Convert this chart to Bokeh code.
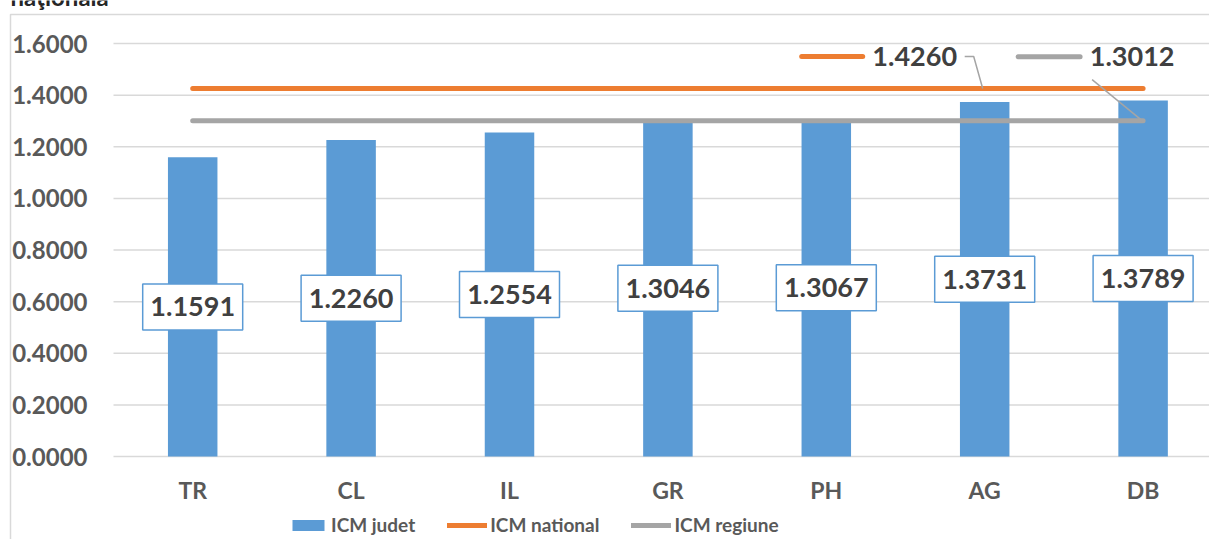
from bokeh.plotting import figure
from bokeh.models import (Range1d, FixedTicker, NumeralTickFormatter, Legend, LegendItem,
                          Label, ColumnDataSource)
from bokeh.core.properties import value
from bokeh.embed import file_html
from bokeh.resources import INLINE

# ---- data ----
categories = ["TR", "CL", "IL", "GR", "PH", "AG", "DB"]
icm_judet = [1.1591, 1.2260, 1.2554, 1.3046, 1.3067, 1.3731, 1.3789]
icm_national = [1.4260] * 7
icm_regiune = [1.3012] * 7
y_ticks = [0.0, 0.2, 0.4, 0.6, 0.8, 1.0, 1.2, 1.4, 1.6]
title_text = "naţională"

# ---- layout constants ----
W, H = 1209, 539
PL = 113            # canvas x of the plot-area left edge
Y0 = 456            # canvas y of value 0
PX_CAT = 158.4
PX_UNIT = 258.1
FONT = "Lato"
BLUE, ORANGE, GREY = "#5B9BD5", "#ED7D31", "#A5A5A5"

xs = [i + 0.5 for i in range(len(categories))]
x_start = -PL / PX_CAT
x_end = (W - PL) / PX_CAT
y_end = Y0 / PX_UNIT
y_start = -(H - Y0) / PX_UNIT

def dx(px):
    return px / PX_CAT

def dy(px):
    return px / PX_UNIT

p = figure(width=W, height=H, output_backend="svg", toolbar_location=None,
           x_range=Range1d(x_start, x_end), y_range=Range1d(y_start, y_end),
           min_border_left=0, min_border_right=0, min_border_top=0, min_border_bottom=0)
p.outline_line_color = None
p.background_fill_color = "white"
p.border_fill_color = "white"

src = ColumnDataSource(dict(x=xs, cat=categories, v=icm_judet,
                            half=[v / 2 for v in icm_judet],
                            lab=["%.4f" % v for v in icm_judet],
                            nat=icm_national, reg=icm_regiune))

# gridlines (only over the plot area)
p.xgrid.grid_line_color = None
p.ygrid.grid_line_color = None
p.segment(x0=[0] * len(y_ticks), x1=[x_end] * len(y_ticks), y0=y_ticks, y1=y_ticks,
          line_color="#D9D9D9", line_width=1.5)

bars = p.vbar(x="x", top="v", width=49.5 / PX_CAT, source=src, fill_color=BLUE, line_color=None)
nat = p.line("x", "nat", source=src, line_color=ORANGE, line_width=5, line_cap="round")
reg = p.line("x", "reg", source=src, line_color=GREY, line_width=5, line_cap="round")

# data label boxes for bars
p.rect(x="x", y="half", width=100, height=46, width_units="screen", height_units="screen",
       source=src, fill_color="white", line_color=BLUE, line_width=1.5)
p.text(x="x", y="half", text="lab", source=src, text_font=value(FONT), text_font_style="bold",
       text_font_size="27px", text_color="#404040", text_align="center", text_baseline="middle")

# labels for the line series (with legend key and leader line)
def line_label(xi, yv, color, txt_off, key_l, key_r, leader):
    tx, tu = txt_off
    p.text(x=[xi], y=[yv], text=["%.4f" % yv], x_offset=tx, y_offset=-tu,
           text_font=value(FONT), text_font_style="bold", text_font_size="27px",
           text_color="#404040", text_align="center", text_baseline="middle")
    p.line([xi + dx(key_l), xi + dx(key_r)], [yv + dy(tu), yv + dy(tu)],
           line_color=color, line_width=5, line_cap="round")
    p.line([xi + dx(a) for a, b in leader], [yv + dy(b) for a, b in leader],
           line_color=GREY, line_width=1.5)

line_label(xs[5], icm_national[5], ORANGE, (-70, 32), -183, -122,
           [(-20, 32), (-11, 32), (-2, 0)])
line_label(xs[6], icm_regiune[6], GREY, (-11, 64), -125, -63,
           [(-51, 41), (-1, 0)])

# axes (fixed inside the full-canvas frame)
p.yaxis.ticker = FixedTicker(ticks=y_ticks)
p.yaxis.formatter = NumeralTickFormatter(format="0.0000")
p.yaxis.fixed_location = 0
p.xaxis.ticker = FixedTicker(ticks=xs)
p.xaxis.major_label_overrides = {x: c for x, c in zip(xs, categories)}
p.xaxis.fixed_location = 0
for ax in (p.xaxis[0], p.yaxis[0]):
    ax.axis_line_color = None
    ax.major_tick_line_color = None
    ax.minor_tick_line_color = None
    ax.major_tick_out = 0
    ax.major_tick_in = 0
    ax.major_label_text_font = FONT
    ax.major_label_text_font_style = "bold"
    ax.major_label_text_color = "#595959"
p.yaxis.major_label_text_font_size = "24px"
p.xaxis.major_label_text_font_size = "23px"
p.yaxis.major_label_standoff = 26
p.xaxis.major_label_standoff = 19

legend = Legend(items=[LegendItem(label="ICM judet", renderers=[bars]),
                       LegendItem(label="ICM national", renderers=[nat]),
                       LegendItem(label="ICM regiune", renderers=[reg])],
                orientation="horizontal", location=(288, 3),
                glyph_width=40, glyph_height=14, label_standoff=3, spacing=32,
                padding=0, margin=0, border_line_color=None, background_fill_alpha=0,
                label_text_font=FONT, label_text_font_style="bold",
                label_text_font_size="19px", label_text_color="#595959")
p.add_layout(legend, "center")

# chart-area border (a large empty label box anchored at the chart corner) and cut title
p.add_layout(Label(x=10, y=14, x_units="canvas", y_units="canvas", text=" ",
                   anchor="top_left", padding=700, text_font_size="10px",
                   background_fill_color=None, border_line_color="#D9D9D9",
                   border_line_width=1.5, level="underlay"))
p.add_layout(Label(x=10, y=-4, x_units="canvas", y_units="canvas", text=title_text,
                   text_font=FONT, text_font_style="bold", text_font_size="24px",
                   text_color="#262626", text_baseline="alphabetic"))

open("out.html", "w").write(file_html(p, INLINE))
